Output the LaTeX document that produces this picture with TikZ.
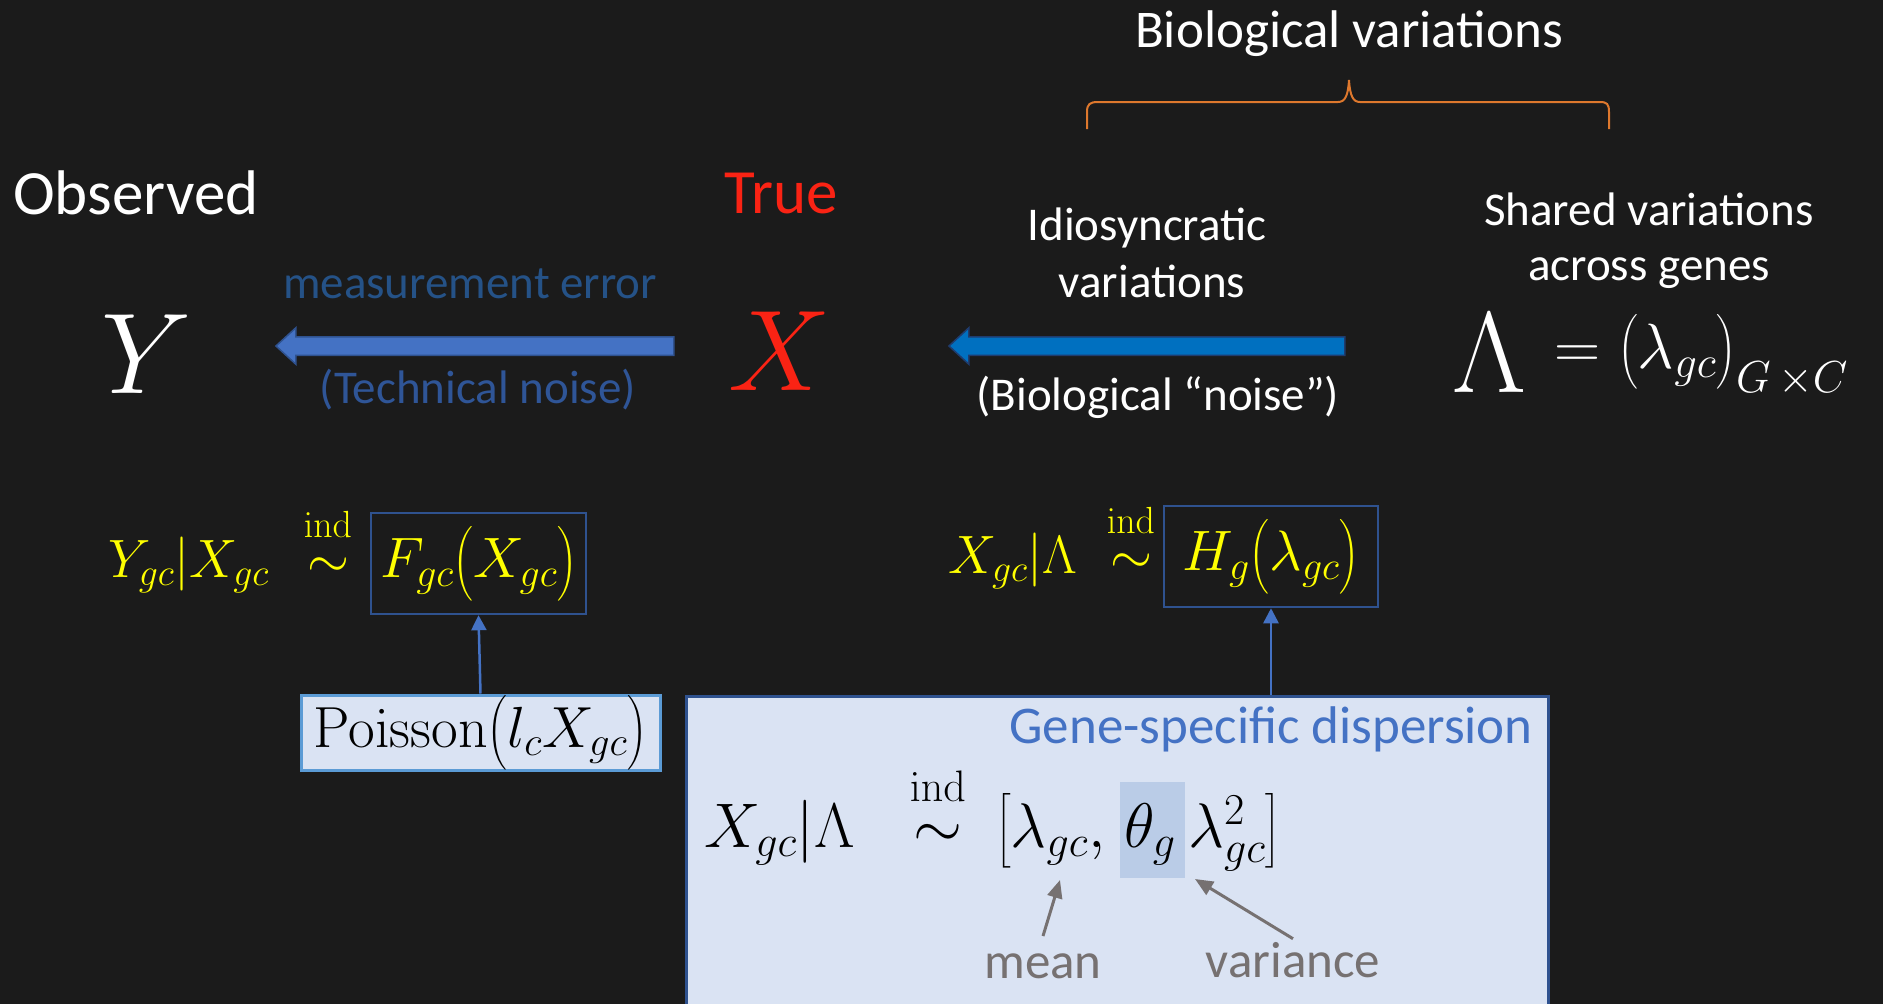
\RequirePackage{fix-cm}
\documentclass[tikz,border=0pt]{standalone}
\usepackage{amsmath}
\usepackage[no-math]{fontspec}
\setmainfont{Carlito}
\usetikzlibrary{shapes.arrows,arrows.meta}
\definecolor{bgc}{RGB}{27,27,27}
\definecolor{bracecol}{RGB}{222,120,45}
\definecolor{truered}{RGB}{250,35,20}
\definecolor{measblue}{RGB}{37,82,135}
\definecolor{techblue}{RGB}{47,85,151}
\definecolor{arrowA}{RGB}{68,114,196}
\definecolor{arrowAline}{RGB}{47,82,143}
\definecolor{arrowB}{RGB}{0,112,192}
\definecolor{arrowBline}{RGB}{31,60,110}
\definecolor{boxblue}{RGB}{47,82,143}
\definecolor{boxfill}{RGB}{218,227,243}
\definecolor{poisline}{RGB}{91,155,213}
\definecolor{hl}{RGB}{186,204,231}
\definecolor{graytxt}{RGB}{118,113,113}
\definecolor{geneblue}{RGB}{68,114,196}
\definecolor{yel}{RGB}{255,255,0}
\newcommand\myfs[1]{\fontsize{#1}{#1}\selectfont}
\newcommand\indsim{\overset{\raisebox{0.28em}{$\scriptstyle\mathrm{ind}$}}{\sim}}
\tikzset{
  txt/.style={inner sep=0pt, text=white},
  yl/.style={inner sep=0pt, text=yel, font=\myfs{54}},
  ybox/.style={draw=boxblue, line width=2.5pt, text=yel, inner sep=0pt, font=\myfs{57}, minimum width=215pt, minimum height=101pt},
  mk/.style={inner sep=0pt, text=black, font=\myfs{63}},
  blockarrow/.style={single arrow, shape border rotate=180, inner xsep=0pt, inner ysep=8.5pt, single arrow head extend=9pt, single arrow tip angle=85, line width=1.5pt},
  conn/.style={draw=arrowA, line width=2.5pt, -{Triangle[length=15pt,width=15pt]}},
  grayarrow/.style={draw=graytxt, line width=3pt, -{Triangle[length=18pt,width=15pt]}},
  lbl/.style={inner sep=0pt, font=\myfs{51}, text=graytxt}
}
\begin{document}
\begin{tikzpicture}[x=1pt,y=-1pt]
\useasboundingbox (0,0) rectangle (1883,1004);
\fill[bgc] (0,0) rectangle (1883,1004);

% brace
\draw[bracecol, line width=2pt] (1087,129) -- (1087,112) .. controls (1087,104) and (1090,102) .. (1098,102) -- (1338,102) .. controls (1345,102) and (1348,96) .. (1349,80) .. controls (1350,96) and (1353,102) .. (1360,102) -- (1600,102) .. controls (1607,102) and (1609,104) .. (1609,112) -- (1609,129);
\node[txt, font=\myfs{53}, anchor=base] (bio) at (1349,47) {Biological variations};

% headings
\node[txt, font=\myfs{63}, anchor=base west] (obs) at (13,214) {Observed};
\node[txt, font=\myfs{63}, anchor=base, text=truered] (true) at (781,213) {True};
\node[txt, font=\myfs{47}, anchor=base, text=measblue] (meas) at (470,298) {measurement error};
\node[txt, font=\myfs{47}, anchor=base, text=techblue] (tech) at (478,403) {(Technical noise)};
\node[txt, font=\myfs{47}, anchor=base] (idio1) at (1147,240) {Idiosyncratic};
\node[txt, font=\myfs{47}, anchor=base] (idio2) at (1152,297) {variations};
\node[txt, font=\myfs{47}, anchor=base] (bion) at (1158,410) {(Biological “noise”)};
\node[txt, font=\myfs{47}, anchor=base] (shared1) at (1649,225) {Shared variations};
\node[txt, font=\myfs{47}, anchor=base] (shared2) at (1649,280) {across genes};

% big symbols
\node[txt, font=\myfs{115}, anchor=base] (Y) at (147,393) {$Y$};
\node[txt, font=\myfs{115}, anchor=base, text=truered] (X) at (780,390) {$X$};
\node[txt, font=\myfs{115}, anchor=base west] (Lam) at (1452,392) {$\Lambda$};
\node[txt, font=\myfs{64}, anchor=base west] (lamdef) at (1554,368) {$=\bigl(\lambda_{gc}\bigr)_{G\,\times C}$};

% block arrows
\node[blockarrow, fill=arrowA, draw=arrowAline, minimum height=398pt] (arrM) at (480,346) {};
\node[blockarrow, fill=arrowB, draw=arrowBline, minimum height=396pt] (arrB) at (1152,346) {};

% row formulas
\node[yl, anchor=base west] (ylhs) at (108,577) {$Y_{gc}|X_{gc}$};
\node[yl, anchor=base] (ysim) at (328,577) {$\indsim$};
\node[ybox] (fbox) at (478.5,563.5) {$F_{gc}\bigl(X_{gc}\bigr)$};

\node[yl, anchor=base west] (xlhs) at (948,573) {$X_{gc}|\Lambda$};
\node[yl, anchor=base] (xsim) at (1131,573) {$\indsim$};
\node[ybox, minimum width=214pt] (hbox) at (1271,556.5) {$H_g\bigl(\lambda_{gc}\bigr)$};

% Poisson box
\node[draw=poisline, fill=boxfill, line width=3pt, minimum width=359pt, minimum height=75pt, inner sep=0pt, font=\myfs{58}, text=black] (pois) at (480.5,732.5) {$\mathrm{Poisson}\bigl(l_cX_{gc}\bigr)$};

% big box
\node[draw=boxblue, fill=boxfill, line width=3pt, minimum width=862pt, minimum height=360pt, anchor=north west, inner sep=0pt] (big) at (685,695) {};
\node[txt, font=\myfs{53}, text=geneblue, anchor=base east] (gene) at (1533,743) {Gene-specific dispersion};
\node[fill=hl, minimum width=65pt, minimum height=96pt, inner sep=0pt] (hlbox) at (1152.5,830) {};
\node[mk, anchor=base west] (blhs) at (704,847) {$X_{gc}|\Lambda$};
\node[mk, anchor=base] (bsim) at (938,847) {$\indsim$};
\node[mk, anchor=base west] (bbr) at (996,847) {$\bigl[\lambda_{gc},$};
\node[mk, anchor=base west] (bth) at (1124,847) {$\theta_g$};
\node[mk, anchor=base west] (blam) at (1188,847) {$\lambda_{gc}^2\bigr]$};

\node[lbl, anchor=base] (mean) at (1043,978) {mean};
\node[lbl, anchor=base] (var) at (1293,977) {variance};
\coordinate (meantip) at (1060,880);
\coordinate (vartip) at (1195,879);
\draw[grayarrow] ([yshift=17pt]mean.north) -- (meantip);
\draw[grayarrow] ([yshift=3pt]var.north) -- (vartip);

% connectors
\draw[conn] (pois.north) -- (fbox.south);
\draw[conn] (big.north -| hbox.south) -- (hbox.south);
\end{tikzpicture}
\end{document}
